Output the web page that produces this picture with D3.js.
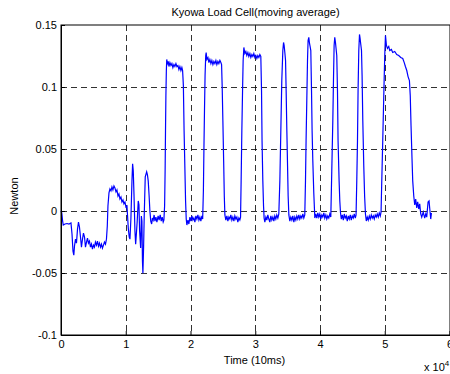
<!DOCTYPE html>
<html>
<head>
<meta charset="utf-8">
<script src="https://cdn.jsdelivr.net/npm/d3@7"></script>
<style>
  body { margin: 0; background: #fff; }
  text { font-family: 'Liberation Sans', Arial, sans-serif; }
</style>
</head>
<body>
<div id="vizcont"></div>
<script>
// time in units of 10^4 samples (10ms each), force in Newton
var time = [
  0, 0.012, 0.023, 0.035, 0.062, 0.093, 0.123, 0.154, 0.170, 0.185, 0.198, 0.208, 0.224, 0.239, 0.255, 0.270,
  0.285, 0.301, 0.316, 0.332, 0.347, 0.363, 0.378, 0.394, 0.409, 0.424, 0.440, 0.455, 0.471, 0.486, 0.502, 0.517,
  0.532, 0.548, 0.563, 0.579, 0.594, 0.610, 0.625, 0.640, 0.656, 0.671, 0.687, 0.702, 0.715, 0.725, 0.741, 0.756,
  0.772, 0.787, 0.802, 0.818, 0.833, 0.849, 0.864, 0.880, 0.895, 0.910, 0.926, 0.941, 0.957, 0.972, 0.988, 1.003,
  1.019, 1.039, 1.054, 1.065, 1.080, 1.096, 1.106, 1.116, 1.127, 1.142, 1.153, 1.165, 1.177, 1.193, 1.204, 1.214,
  1.230, 1.241, 1.250, 1.258, 1.265, 1.276, 1.285, 1.301, 1.323, 1.335, 1.347, 1.361, 1.373, 1.386, 1.400, 1.412,
  1.424, 1.438, 1.451, 1.466, 1.481, 1.500, 1.515, 1.532, 1.548, 1.563, 1.578, 1.589,
  1.600, 1.608, 1.614, 1.620, 1.627, 1.633,
  1.644, 1.656, 1.667, 1.682, 1.698, 1.713, 1.728, 1.744, 1.759, 1.775, 1.790, 1.806, 1.821, 1.836, 1.852, 1.867, 1.878,
  1.890, 1.901, 1.914, 1.924, 1.934,
  1.944, 1.960, 1.975, 1.991, 2.006, 2.022, 2.037, 2.052, 2.068, 2.083, 2.099, 2.114, 2.130, 2.145, 2.160, 2.176, 2.188,
  2.199, 2.207, 2.216, 2.225, 2.235, 2.242,
  2.253, 2.269, 2.284, 2.299, 2.315, 2.330, 2.346, 2.361, 2.377, 2.392, 2.407, 2.423, 2.438, 2.454, 2.469, 2.480,
  2.489, 2.500, 2.512, 2.522, 2.531,
  2.546, 2.562, 2.577, 2.593, 2.608, 2.623, 2.639, 2.654, 2.670, 2.685, 2.701, 2.716, 2.731, 2.747, 2.762, 2.773,
  2.782, 2.793, 2.804, 2.813, 2.824,
  2.840, 2.855, 2.870, 2.886, 2.901, 2.917, 2.932, 2.948, 2.963, 2.978, 2.994, 3.009, 3.025, 3.040, 3.056, 3.071, 3.086,
  3.097, 3.105, 3.117, 3.128, 3.137,
  3.148, 3.164, 3.179, 3.194, 3.210, 3.225, 3.241, 3.256, 3.272, 3.287, 3.302, 3.318, 3.333, 3.349, 3.364,
  3.380, 3.395, 3.410, 3.426, 3.437, 3.446, 3.457, 3.468,
  3.477, 3.488, 3.499, 3.508, 3.519,
  3.534, 3.549, 3.565, 3.580, 3.596, 3.611, 3.627, 3.642, 3.657, 3.673, 3.688, 3.704, 3.719, 3.735, 3.750, 3.765,
  3.776, 3.785, 3.796, 3.807, 3.816, 3.827, 3.838, 3.847, 3.858,
  3.869, 3.878, 3.889, 3.904, 3.920,
  3.935, 3.951, 3.966, 3.981, 3.997, 4.012, 4.028, 4.043, 4.059, 4.074, 4.090, 4.105, 4.120, 4.136, 4.151, 4.167,
  4.182, 4.198, 4.208, 4.218, 4.228, 4.239, 4.248, 4.259,
  4.270, 4.279, 4.295, 4.306, 4.317,
  4.329, 4.344, 4.360, 4.375, 4.390, 4.406, 4.421, 4.437, 4.452, 4.468, 4.483, 4.498, 4.514, 4.529, 4.545, 4.557,
  4.568, 4.579, 4.588, 4.599, 4.610, 4.619, 4.630, 4.641,
  4.650, 4.661, 4.676, 4.689, 4.702,
  4.715, 4.730, 4.745, 4.761, 4.776, 4.792, 4.807, 4.823, 4.838, 4.853, 4.869, 4.884, 4.900, 4.915, 4.931, 4.943,
  4.954, 4.969, 4.985, 5.000, 5.011,
  5.026, 5.042, 5.062, 5.077, 5.103, 5.123, 5.154, 5.185, 5.216, 5.247, 5.278, 5.301, 5.319, 5.340, 5.360, 5.381,
  5.394, 5.406, 5.421, 5.432, 5.448, 5.463, 5.478, 5.494, 5.509, 5.525, 5.540, 5.556, 5.571, 5.594, 5.617, 5.633,
  5.648, 5.669, 5.684, 5.694, 5.710, 5.721
];

var force = [
  0.0000, -0.0016, -0.0073, -0.0113, -0.0105, -0.0101, -0.0105, -0.0097, -0.0186, -0.0324, -0.0356, -0.0283, -0.0227, -0.0259, -0.0146, -0.0089,
  -0.0129, -0.0210, -0.0291, -0.0227, -0.0178, -0.0210, -0.0291, -0.0251, -0.0218, -0.0259, -0.0243, -0.0291, -0.0267, -0.0307, -0.0275, -0.0291,
  -0.0251, -0.0275, -0.0243, -0.0283, -0.0259, -0.0291, -0.0267, -0.0299, -0.0275, -0.0251, -0.0267, -0.0227, -0.0121, 0.0040, 0.0146, 0.0178,
  0.0162, 0.0194, 0.0170, 0.0202, 0.0186, 0.0154, 0.0170, 0.0121, 0.0138, 0.0097, 0.0113, 0.0073, 0.0089, 0.0057, 0.0073, 0.0032,
  0.0040, -0.0138, -0.0210, -0.0227, -0.0057, 0.0243, 0.0380, 0.0324, 0.0138, -0.0162, -0.0267, -0.0178, -0.0081, 0.0081, 0.0049, -0.0162,
  -0.0299, -0.0040, -0.0081, -0.0405, -0.0502, -0.0283, -0.0049, 0.0275, 0.0316, 0.0291, 0.0243, 0.0121, 0.0000, -0.0081, -0.0105, -0.0057,
  -0.0073, -0.0032, -0.0081, -0.0049, -0.0089, -0.0040, -0.0073, -0.0032, -0.0081, -0.0049, -0.0089, -0.0073,
  0.0040, 0.0324, 0.0647, 0.0930, 0.1133, 0.1222,
  0.1189, 0.1206, 0.1165, 0.1197, 0.1173, 0.1189, 0.1157, 0.1181, 0.1165, 0.1189, 0.1165, 0.1173, 0.1141, 0.1165, 0.1133, 0.1157, 0.1133,
  0.1011, 0.0647, 0.0324, 0.0081, -0.0065,
  -0.0113, -0.0073, -0.0105, -0.0049, -0.0081, -0.0040, -0.0073, -0.0057, -0.0089, -0.0040, -0.0065, -0.0032, -0.0073, -0.0049, -0.0081, -0.0040, -0.0065,
  0.0162, 0.0485, 0.0809, 0.1092, 0.1254, 0.1278,
  0.1222, 0.1238, 0.1197, 0.1222, 0.1189, 0.1214, 0.1181, 0.1206, 0.1189, 0.1214, 0.1181, 0.1206, 0.1189, 0.1214, 0.1197, 0.1181,
  0.1011, 0.0728, 0.0405, 0.0121, -0.0032,
  -0.0073, -0.0040, -0.0081, -0.0049, -0.0065, -0.0032, -0.0073, -0.0049, -0.0081, -0.0040, -0.0065, -0.0049, -0.0089, -0.0057, -0.0073, -0.0049,
  0.0243, 0.0647, 0.0971, 0.1214, 0.1319,
  0.1270, 0.1286, 0.1254, 0.1278, 0.1246, 0.1270, 0.1238, 0.1262, 0.1246, 0.1270, 0.1238, 0.1254, 0.1230, 0.1254, 0.1238, 0.1262, 0.1246,
  0.0971, 0.0566, 0.0243, 0.0040, -0.0057,
  -0.0089, -0.0049, -0.0073, -0.0032, -0.0065, -0.0089, -0.0040, -0.0073, -0.0049, -0.0081, -0.0040, -0.0065, -0.0032, -0.0057, -0.0024,
  0.0243, 0.0647, 0.1052, 0.1294, 0.1359, 0.1335, 0.1278, 0.1214,
  0.0971, 0.0647, 0.0364, 0.0121, -0.0032,
  -0.0081, -0.0049, -0.0073, -0.0040, -0.0089, -0.0049, -0.0073, -0.0040, -0.0065, -0.0032, -0.0065, -0.0040, -0.0057, -0.0024, -0.0057, -0.0032,
  0.0243, 0.0566, 0.0890, 0.1214, 0.1375, 0.1400, 0.1351, 0.1327, 0.1294,
  0.0971, 0.0647, 0.0405, 0.0146, -0.0057,
  -0.0024, -0.0057, -0.0016, -0.0049, -0.0024, -0.0065, -0.0032, -0.0049, -0.0016, -0.0057, -0.0032, -0.0065, -0.0040, -0.0057, -0.0024, -0.0049,
  0.0324, 0.0728, 0.1052, 0.1335, 0.1400, 0.1359, 0.1311, 0.1254,
  0.0971, 0.0566, 0.0243, 0.0081, -0.0016,
  -0.0065, -0.0032, -0.0073, -0.0024, -0.0057, -0.0040, -0.0081, -0.0040, -0.0065, -0.0032, -0.0073, -0.0040, -0.0057, -0.0024, -0.0057, -0.0032,
  0.0243, 0.0566, 0.0971, 0.1294, 0.1424, 0.1392, 0.1343, 0.1294,
  0.1092, 0.0728, 0.0364, 0.0121, -0.0024,
  -0.0081, -0.0049, -0.0073, -0.0040, -0.0065, -0.0032, -0.0057, -0.0040, -0.0065, -0.0032, -0.0049, -0.0024, -0.0049, -0.0016, -0.0040, -0.0008,
  0.0243, 0.0566, 0.0930, 0.1254, 0.1416,
  0.1335, 0.1311, 0.1327, 0.1294, 0.1303, 0.1278, 0.1286, 0.1262, 0.1254, 0.1238, 0.1230, 0.1197, 0.1165, 0.1133, 0.1084, 0.1052,
  0.0930, 0.0688, 0.0421, 0.0243, 0.0121, 0.0049, 0.0097, 0.0024, 0.0073, 0.0016, 0.0057, -0.0024, -0.0049, -0.0008, -0.0057, -0.0024,
  -0.0049, 0.0073, 0.0081, 0.0024, -0.0065, -0.0016
];

var xTicks = [0, 1, 2, 3, 4, 5, 6];
var yTicks = [-0.1, -0.05, 0, 0.05, 0.1, 0.15];
var yTickLabels = ["-0.1", "-0.05", "0", "0.05", "0.1", "0.15"];

var margin = {top: 25, right: 0, bottom: 39, left: 61};
var width = 450 - margin.left - margin.right;
var height = 374 - margin.top - margin.bottom;

var svg = d3.select("#vizcont")
            .append("svg")
            .attr("width", 450)
            .attr("height", 374);
var g = svg.append("g")
           .attr("transform", "translate(" + margin.left + "," + margin.top + ")");

var x = d3.scaleLinear().domain([0, 6]).range([0, width - 0.5]);
var y = d3.scaleLinear().domain([-0.1, 0.15]).range([height, 0]);

// dashed grid
g.append("g")
 .selectAll("line")
 .data(xTicks.slice(1, -1))
 .enter()
 .append("line")
 .attr("x1", function(d) { return Math.round(x(d)) + 0.5; })
 .attr("x2", function(d) { return Math.round(x(d)) + 0.5; })
 .attr("y1", 0)
 .attr("y2", height)
 .attr("stroke", "#000")
 .style("stroke-width", "1px")
 .style("stroke-dasharray", "6,4")
 .style("opacity", 0.8);

g.append("g")
 .selectAll("line")
 .data(yTicks.slice(1, -1))
 .enter()
 .append("line")
 .attr("x1", 0)
 .attr("x2", width)
 .attr("y1", function(d) { return Math.round(y(d)) + 0.5; })
 .attr("y2", function(d) { return Math.round(y(d)) + 0.5; })
 .attr("stroke", "#000")
 .style("stroke-width", "1px")
 .style("stroke-dasharray", "6,4")
 .style("opacity", 0.8);

// signal
var line = d3.line()
             .x(function(d, i) { return x(time[i]); })
             .y(function(d) { return y(d); });

g.append("path")
 .datum(force)
 .attr("d", line)
 .attr("fill", "none")
 .attr("stroke", "#0000ff")
 .style("stroke-width", "1.2px");

// axes, ticks pointing inward like matlab
g.append("g")
 .attr("transform", "translate(0," + height + ")")
 .call(d3.axisBottom(x).tickValues(xTicks).tickSizeInner(-4).tickSizeOuter(0).tickPadding(5)
       .tickFormat(d3.format("d")))
 .style("font", "11px 'Liberation Sans'");

g.append("g")
 .call(d3.axisLeft(y).tickValues(yTicks).tickSizeInner(-4).tickSizeOuter(0).tickPadding(4)
       .tickFormat(function(d, i) { return yTickLabels[i]; }))
 .style("font", "11px 'Liberation Sans'");

g.selectAll(".domain").attr("stroke", "#000");
g.selectAll(".tick line").attr("stroke", "#000");
g.selectAll(".tick text").attr("fill", "#000");

// box
g.append("rect")
 .attr("x", 0)
 .attr("y", 0)
 .attr("width", width)
 .attr("height", height)
 .attr("fill", "none")
 .attr("stroke", "#000")
 .style("stroke-width", "1px");

svg.append("text")
   .attr("x", margin.left + width / 2)
   .attr("y", 16)
   .attr("text-anchor", "middle")
   .style("font-size", "11px")
   .text("Kyowa Load Cell(moving average)");

svg.append("text")
   .attr("x", margin.left + width / 2 - 1)
   .attr("y", 364)
   .attr("text-anchor", "middle")
   .style("font-size", "11px")
   .text("Time (10ms)");

svg.append("text")
   .attr("transform", "translate(18,196) rotate(-90)")
   .attr("text-anchor", "middle")
   .style("font-size", "11px")
   .text("Newton");

var exp = svg.append("text")
             .attr("x", 424)
             .attr("y", 371)
             .style("font-size", "11px");
exp.append("tspan").text("x 10");
exp.append("tspan").attr("dy", -5).style("font-size", "8px").text("4");
</script>
</body>
</html>
